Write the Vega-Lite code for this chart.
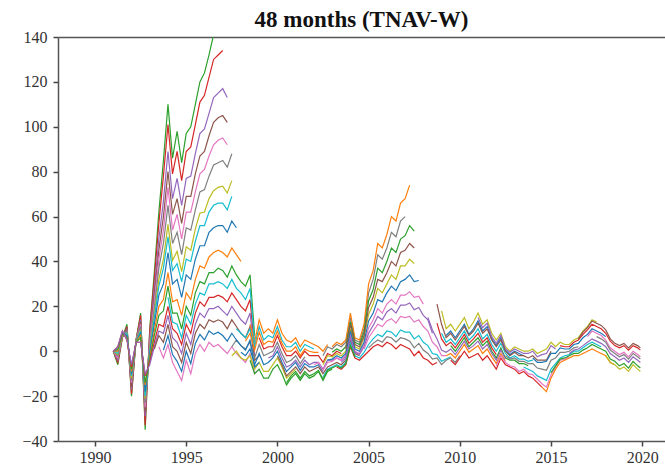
{
  "$schema": "https://vega.github.io/schema/vega-lite/v6.json",
  "width": 607,
  "height": 404,
  "autosize": {"type": "none"},
  "padding": {"left": 58, "top": 37, "right": 0, "bottom": 30},
  "background": "white",
  "title": {"text": "48 months (TNAV-W)", "font": "Liberation Serif", "fontSize": 23, "fontWeight": "bold", "color": "#111", "offset": -3, "anchor": "middle"},
  "config": {"view": {"stroke": null}, "font": "Liberation Serif"},
  "resolve": {"axis": {"x": "independent"}},
  "layer": [
    {
      "data": {"values": [
        {"k":1,"t":1991,"v":0},{"k":1,"t":1991.25,"v":-6},{"k":1,"t":1991.5,"v":6},{"k":1,"t":1991.75,"v":12},{"k":1,"t":1992,"v":-20},{"k":1,"t":1992.25,"v":5},{"k":1,"t":1992.5,"v":17},{"k":1,"t":1992.75,"v":-35},{"k":1,"t":1993,"v":10},{"k":1,"t":1993.25,"v":35},{"k":1,"t":1993.5,"v":62},{"k":1,"t":1993.75,"v":85},{"k":1,"t":1994,"v":110},{"k":1,"t":1994.25,"v":86},{"k":1,"t":1994.5,"v":98},{"k":1,"t":1994.75,"v":84},{"k":1,"t":1995,"v":97},{"k":1,"t":1995.25,"v":100},{"k":1,"t":1995.5,"v":110},{"k":1,"t":1995.75,"v":120},{"k":1,"t":1996,"v":124},{"k":1,"t":1996.25,"v":132},{"k":1,"t":1996.5,"v":141},
        {"k":2,"t":1991,"v":0},{"k":2,"t":1991.25,"v":-5},{"k":2,"t":1991.5,"v":6},{"k":2,"t":1991.75,"v":11},{"k":2,"t":1992,"v":-19},{"k":2,"t":1992.25,"v":5},{"k":2,"t":1992.5,"v":16},{"k":2,"t":1992.75,"v":-33},{"k":2,"t":1993,"v":9},{"k":2,"t":1993.25,"v":32},{"k":2,"t":1993.5,"v":57},{"k":2,"t":1993.75,"v":78},{"k":2,"t":1994,"v":101},{"k":2,"t":1994.25,"v":79},{"k":2,"t":1994.5,"v":89},{"k":2,"t":1994.75,"v":76},{"k":2,"t":1995,"v":89},{"k":2,"t":1995.25,"v":91},{"k":2,"t":1995.5,"v":101},{"k":2,"t":1995.75,"v":111},{"k":2,"t":1996,"v":114},{"k":2,"t":1996.25,"v":122},{"k":2,"t":1996.5,"v":130},{"k":2,"t":1996.75,"v":132},{"k":2,"t":1997,"v":134},
        {"k":3,"t":1991,"v":0},{"k":3,"t":1991.25,"v":-4},{"k":3,"t":1991.5,"v":7},{"k":3,"t":1991.75,"v":10},{"k":3,"t":1992,"v":-17},{"k":3,"t":1992.25,"v":5},{"k":3,"t":1992.5,"v":14},{"k":3,"t":1992.75,"v":-29},{"k":3,"t":1993,"v":6},{"k":3,"t":1993.25,"v":28},{"k":3,"t":1993.5,"v":50},{"k":3,"t":1993.75,"v":67},{"k":3,"t":1994,"v":89},{"k":3,"t":1994.25,"v":68},{"k":3,"t":1994.5,"v":77},{"k":3,"t":1994.75,"v":65},{"k":3,"t":1995,"v":77},{"k":3,"t":1995.25,"v":78},{"k":3,"t":1995.5,"v":88},{"k":3,"t":1995.75,"v":97},{"k":3,"t":1996,"v":99},{"k":3,"t":1996.25,"v":106},{"k":3,"t":1996.5,"v":113},{"k":3,"t":1996.75,"v":115},{"k":3,"t":1997,"v":117},{"k":3,"t":1997.25,"v":113},
        {"k":4,"t":1991,"v":0},{"k":4,"t":1991.25,"v":-3},{"k":4,"t":1991.5,"v":7},{"k":4,"t":1991.75,"v":10},{"k":4,"t":1992,"v":-16},{"k":4,"t":1992.25,"v":5},{"k":4,"t":1992.5,"v":13},{"k":4,"t":1992.75,"v":-27},{"k":4,"t":1993,"v":5},{"k":4,"t":1993.25,"v":25},{"k":4,"t":1993.5,"v":45},{"k":4,"t":1993.75,"v":60},{"k":4,"t":1994,"v":80},{"k":4,"t":1994.25,"v":61},{"k":4,"t":1994.5,"v":68},{"k":4,"t":1994.75,"v":57},{"k":4,"t":1995,"v":69},{"k":4,"t":1995.25,"v":69},{"k":4,"t":1995.5,"v":79},{"k":4,"t":1995.75,"v":87},{"k":4,"t":1996,"v":89},{"k":4,"t":1996.25,"v":96},{"k":4,"t":1996.5,"v":102},{"k":4,"t":1996.75,"v":104},{"k":4,"t":1997,"v":105},{"k":4,"t":1997.25,"v":102},
        {"k":5,"t":1991,"v":0},{"k":5,"t":1991.25,"v":-3},{"k":5,"t":1991.5,"v":7},{"k":5,"t":1991.75,"v":9},{"k":5,"t":1992,"v":-14},{"k":5,"t":1992.25,"v":5},{"k":5,"t":1992.5,"v":12},{"k":5,"t":1992.75,"v":-25},{"k":5,"t":1993,"v":4},{"k":5,"t":1993.25,"v":22},{"k":5,"t":1993.5,"v":41},{"k":5,"t":1993.75,"v":54},{"k":5,"t":1994,"v":73},{"k":5,"t":1994.25,"v":54},{"k":5,"t":1994.5,"v":61},{"k":5,"t":1994.75,"v":50},{"k":5,"t":1995,"v":62},{"k":5,"t":1995.25,"v":62},{"k":5,"t":1995.5,"v":71},{"k":5,"t":1995.75,"v":79},{"k":5,"t":1996,"v":81},{"k":5,"t":1996.25,"v":87},{"k":5,"t":1996.5,"v":92},{"k":5,"t":1996.75,"v":94},{"k":5,"t":1997,"v":95},{"k":5,"t":1997.25,"v":92},
        {"k":6,"t":1991,"v":0},{"k":6,"t":1991.25,"v":-2},{"k":6,"t":1991.5,"v":7},{"k":6,"t":1991.75,"v":9},{"k":6,"t":1992,"v":-13},{"k":6,"t":1992.25,"v":5},{"k":6,"t":1992.5,"v":11},{"k":6,"t":1992.75,"v":-23},{"k":6,"t":1993,"v":2},{"k":6,"t":1993.25,"v":19},{"k":6,"t":1993.5,"v":37},{"k":6,"t":1993.75,"v":48},{"k":6,"t":1994,"v":65},{"k":6,"t":1994.25,"v":48},{"k":6,"t":1994.5,"v":53},{"k":6,"t":1994.75,"v":43},{"k":6,"t":1995,"v":55},{"k":6,"t":1995.25,"v":54},{"k":6,"t":1995.5,"v":63},{"k":6,"t":1995.75,"v":71},{"k":6,"t":1996,"v":72},{"k":6,"t":1996.25,"v":78},{"k":6,"t":1996.5,"v":83},{"k":6,"t":1996.75,"v":84},{"k":6,"t":1997,"v":85},{"k":6,"t":1997.25,"v":82},{"k":6,"t":1997.5,"v":88},
        {"k":7,"t":1991,"v":0},{"k":7,"t":1991.25,"v":-1.5},{"k":7,"t":1991.5,"v":7.5},{"k":7,"t":1991.75,"v":8},{"k":7,"t":1992,"v":-12},{"k":7,"t":1992.25,"v":4.5},{"k":7,"t":1992.5,"v":9.5},{"k":7,"t":1992.75,"v":-21},{"k":7,"t":1993,"v":1},{"k":7,"t":1993.25,"v":16.5},{"k":7,"t":1993.5,"v":32},{"k":7,"t":1993.75,"v":41},{"k":7,"t":1994,"v":56.5},{"k":7,"t":1994.25,"v":40.5},{"k":7,"t":1994.5,"v":44.5},{"k":7,"t":1994.75,"v":35.5},{"k":7,"t":1995,"v":46.5},{"k":7,"t":1995.25,"v":45},{"k":7,"t":1995.5,"v":54.5},{"k":7,"t":1995.75,"v":61.5},{"k":7,"t":1996,"v":62},{"k":7,"t":1996.25,"v":68},{"k":7,"t":1996.5,"v":71.5},{"k":7,"t":1996.75,"v":73},{"k":7,"t":1997,"v":73.5},{"k":7,"t":1997.25,"v":70.5},{"k":7,"t":1997.5,"v":76},
        {"k":8,"t":1991,"v":0},{"k":8,"t":1991.25,"v":-1},{"k":8,"t":1991.5,"v":8},{"k":8,"t":1991.75,"v":8},{"k":8,"t":1992,"v":-11},{"k":8,"t":1992.25,"v":4},{"k":8,"t":1992.5,"v":9},{"k":8,"t":1992.75,"v":-20},{"k":8,"t":1993,"v":0},{"k":8,"t":1993.25,"v":15},{"k":8,"t":1993.5,"v":29},{"k":8,"t":1993.75,"v":37},{"k":8,"t":1994,"v":51},{"k":8,"t":1994.25,"v":36},{"k":8,"t":1994.5,"v":39},{"k":8,"t":1994.75,"v":31},{"k":8,"t":1995,"v":41},{"k":8,"t":1995.25,"v":40},{"k":8,"t":1995.5,"v":49},{"k":8,"t":1995.75,"v":56},{"k":8,"t":1996,"v":56},{"k":8,"t":1996.25,"v":62},{"k":8,"t":1996.5,"v":65},{"k":8,"t":1996.75,"v":66},{"k":8,"t":1997,"v":66},{"k":8,"t":1997.25,"v":63},{"k":8,"t":1997.5,"v":69},
        {"k":9,"t":1991,"v":0},{"k":9,"t":1991.25,"v":0},{"k":9,"t":1991.5,"v":8},{"k":9,"t":1991.75,"v":7},{"k":9,"t":1992,"v":-10},{"k":9,"t":1992.25,"v":4},{"k":9,"t":1992.5,"v":8},{"k":9,"t":1992.75,"v":-18},{"k":9,"t":1993,"v":-1},{"k":9,"t":1993.25,"v":12},{"k":9,"t":1993.5,"v":25},{"k":9,"t":1993.75,"v":30},{"k":9,"t":1994,"v":44},{"k":9,"t":1994.25,"v":30},{"k":9,"t":1994.5,"v":32},{"k":9,"t":1994.75,"v":24},{"k":9,"t":1995,"v":34},{"k":9,"t":1995.25,"v":32},{"k":9,"t":1995.5,"v":41},{"k":9,"t":1995.75,"v":47},{"k":9,"t":1996,"v":47},{"k":9,"t":1996.25,"v":53},{"k":9,"t":1996.5,"v":55},{"k":9,"t":1996.75,"v":56},{"k":9,"t":1997,"v":56},{"k":9,"t":1997.25,"v":53},{"k":9,"t":1997.5,"v":58},{"k":9,"t":1997.75,"v":55},
        {"k":10,"t":1991,"v":0},{"k":10,"t":1991.25,"v":0},{"k":10,"t":1991.5,"v":8},{"k":10,"t":1991.75,"v":6},{"k":10,"t":1992,"v":-9},{"k":10,"t":1992.25,"v":4},{"k":10,"t":1992.5,"v":7},{"k":10,"t":1992.75,"v":-15},{"k":10,"t":1993,"v":-3},{"k":10,"t":1993.25,"v":9},{"k":10,"t":1993.5,"v":20},{"k":10,"t":1993.75,"v":23},{"k":10,"t":1994,"v":35},{"k":10,"t":1994.25,"v":22},{"k":10,"t":1994.5,"v":23},{"k":10,"t":1994.75,"v":16},{"k":10,"t":1995,"v":26},{"k":10,"t":1995.25,"v":23},{"k":10,"t":1995.5,"v":32},{"k":10,"t":1995.75,"v":38},{"k":10,"t":1996,"v":37},{"k":10,"t":1996.25,"v":42},{"k":10,"t":1996.5,"v":44},{"k":10,"t":1996.75,"v":45},{"k":10,"t":1997,"v":44},{"k":10,"t":1997.25,"v":42},{"k":10,"t":1997.5,"v":46},{"k":10,"t":1997.75,"v":43},{"k":10,"t":1998,"v":40},
        {"k":11,"t":1991,"v":0},{"k":11,"t":1991.25,"v":1},{"k":11,"t":1991.5,"v":8},{"k":11,"t":1991.75,"v":6},{"k":11,"t":1992,"v":-8},{"k":11,"t":1992.25,"v":4},{"k":11,"t":1992.5,"v":6},{"k":11,"t":1992.75,"v":-14},{"k":11,"t":1993,"v":-4},{"k":11,"t":1993.25,"v":7},{"k":11,"t":1993.5,"v":16},{"k":11,"t":1993.75,"v":18},{"k":11,"t":1994,"v":29},{"k":11,"t":1994.25,"v":17},{"k":11,"t":1994.5,"v":17},{"k":11,"t":1994.75,"v":10},{"k":11,"t":1995,"v":20},{"k":11,"t":1995.25,"v":16},{"k":11,"t":1995.5,"v":26},{"k":11,"t":1995.75,"v":31},{"k":11,"t":1996,"v":30},{"k":11,"t":1996.25,"v":35},{"k":11,"t":1996.5,"v":35},{"k":11,"t":1996.75,"v":37},{"k":11,"t":1997,"v":36},{"k":11,"t":1997.25,"v":33},{"k":11,"t":1997.5,"v":38},{"k":11,"t":1997.75,"v":34},{"k":11,"t":1998,"v":31},{"k":11,"t":1998.25,"v":29},{"k":11,"t":1998.5,"v":34},{"k":11,"t":1998.75,"v":7},
        {"k":12,"t":1991,"v":0},{"k":12,"t":1991.25,"v":2},{"k":12,"t":1991.5,"v":9},{"k":12,"t":1991.75,"v":5},{"k":12,"t":1992,"v":-7},{"k":12,"t":1992.25,"v":4},{"k":12,"t":1992.5,"v":4},{"k":12,"t":1992.75,"v":-11},{"k":12,"t":1993,"v":-5},{"k":12,"t":1993.25,"v":4},{"k":12,"t":1993.5,"v":12},{"k":12,"t":1993.75,"v":11},{"k":12,"t":1994,"v":20},{"k":12,"t":1994.25,"v":10},{"k":12,"t":1994.5,"v":8},{"k":12,"t":1994.75,"v":3},{"k":12,"t":1995,"v":12},{"k":12,"t":1995.25,"v":8},{"k":12,"t":1995.5,"v":17},{"k":12,"t":1995.75,"v":22},{"k":12,"t":1996,"v":20},{"k":12,"t":1996.25,"v":24},{"k":12,"t":1996.5,"v":24},{"k":12,"t":1996.75,"v":25},{"k":12,"t":1997,"v":24},{"k":12,"t":1997.25,"v":22},{"k":12,"t":1997.5,"v":26},{"k":12,"t":1997.75,"v":23},{"k":12,"t":1998,"v":20},{"k":12,"t":1998.25,"v":18},{"k":12,"t":1998.5,"v":23},{"k":12,"t":1998.75,"v":1},
        {"k":13,"t":1991,"v":0},{"k":13,"t":1991.25,"v":2},{"k":13,"t":1991.5,"v":9},{"k":13,"t":1991.75,"v":5},{"k":13,"t":1992,"v":-6},{"k":13,"t":1992.25,"v":4},{"k":13,"t":1992.5,"v":4},{"k":13,"t":1992.75,"v":-10},{"k":13,"t":1993,"v":-6},{"k":13,"t":1993.25,"v":2},{"k":13,"t":1993.5,"v":9},{"k":13,"t":1993.75,"v":8},{"k":13,"t":1994,"v":16},{"k":13,"t":1994.25,"v":6},{"k":13,"t":1994.5,"v":4},{"k":13,"t":1994.75,"v":-1},{"k":13,"t":1995,"v":8},{"k":13,"t":1995.25,"v":3},{"k":13,"t":1995.5,"v":12},{"k":13,"t":1995.75,"v":17},{"k":13,"t":1996,"v":15},{"k":13,"t":1996.25,"v":19},{"k":13,"t":1996.5,"v":19},{"k":13,"t":1996.75,"v":20},{"k":13,"t":1997,"v":18},{"k":13,"t":1997.25,"v":16},{"k":13,"t":1997.5,"v":20},{"k":13,"t":1997.75,"v":17},{"k":13,"t":1998,"v":14},{"k":13,"t":1998.25,"v":12},{"k":13,"t":1998.5,"v":17},{"k":13,"t":1998.75,"v":-2},
        {"k":14,"t":1993.25,"v":1},{"k":14,"t":1993.5,"v":7},{"k":14,"t":1993.75,"v":4},{"k":14,"t":1994,"v":12},{"k":14,"t":1994.25,"v":2},{"k":14,"t":1994.5,"v":0},{"k":14,"t":1994.75,"v":-5},{"k":14,"t":1995,"v":4},{"k":14,"t":1995.25,"v":-1},{"k":14,"t":1995.5,"v":8},{"k":14,"t":1995.75,"v":12},{"k":14,"t":1996,"v":10},{"k":14,"t":1996.25,"v":14},{"k":14,"t":1996.5,"v":13},{"k":14,"t":1996.75,"v":14},{"k":14,"t":1997,"v":13},{"k":14,"t":1997.25,"v":10},{"k":14,"t":1997.5,"v":14},{"k":14,"t":1997.75,"v":11},{"k":14,"t":1998,"v":8},{"k":14,"t":1998.25,"v":6},{"k":14,"t":1998.5,"v":11},{"k":14,"t":1998.75,"v":-4},{"k":14,"t":1999,"v":-2},
        {"k":15,"t":1993.5,"v":2},{"k":15,"t":1993.75,"v":-3},{"k":15,"t":1994,"v":3},{"k":15,"t":1994.25,"v":-5},{"k":15,"t":1994.5,"v":-9},{"k":15,"t":1994.75,"v":-13},{"k":15,"t":1995,"v":-4},{"k":15,"t":1995.25,"v":-10},{"k":15,"t":1995.5,"v":-1},{"k":15,"t":1995.75,"v":3},{"k":15,"t":1996,"v":0},{"k":15,"t":1996.25,"v":4},{"k":15,"t":1996.5,"v":2},{"k":15,"t":1996.75,"v":3},{"k":15,"t":1997,"v":1},{"k":15,"t":1997.25,"v":-1},{"k":15,"t":1997.5,"v":2},{"k":15,"t":1997.75,"v":-1},{"k":15,"t":1998,"v":-3},{"k":15,"t":1998.25,"v":-5},{"k":15,"t":1998.5,"v":-1},{"k":15,"t":1998.75,"v":-10},{"k":15,"t":1999,"v":-8},
        {"k":16,"t":1997.5,"v":2},{"k":16,"t":1997.75,"v":5},{"k":16,"t":1998,"v":2.5},{"k":16,"t":1998.25,"v":1},{"k":16,"t":1998.5,"v":4},{"k":16,"t":1998.75,"v":-3},{"k":16,"t":1999,"v":3},{"k":16,"t":1999.25,"v":-2},{"k":16,"t":1999.5,"v":-1},{"k":16,"t":1999.75,"v":0},{"k":16,"t":2000,"v":4},{"k":16,"t":2000.25,"v":-1},{"k":16,"t":2000.5,"v":-5},{"k":16,"t":2000.75,"v":-4},{"k":16,"t":2001,"v":-2},{"k":16,"t":2001.25,"v":-5.5},{"k":16,"t":2001.5,"v":-2.5},
        {"k":17,"t":1997.5,"v":-2},{"k":17,"t":1997.75,"v":0},{"k":17,"t":1998,"v":-3},{"k":17,"t":1998.25,"v":-4},{"k":17,"t":1998.5,"v":-2},{"k":17,"t":1998.75,"v":-8},{"k":17,"t":1999,"v":-5},{"k":17,"t":1999.25,"v":-9},{"k":17,"t":1999.5,"v":-9},{"k":17,"t":1999.75,"v":-6},{"k":17,"t":2000,"v":-3},{"k":17,"t":2000.25,"v":-7},{"k":17,"t":2000.5,"v":-12},{"k":17,"t":2000.75,"v":-10},{"k":17,"t":2001,"v":-8},
        {"k":18,"t":1997.75,"v":10},{"k":18,"t":1998,"v":8},{"k":18,"t":1998.25,"v":6},{"k":18,"t":1998.5,"v":10},{"k":18,"t":1998.75,"v":2},{"k":18,"t":1999,"v":11},{"k":18,"t":1999.25,"v":5},{"k":18,"t":1999.5,"v":7},{"k":18,"t":1999.75,"v":6},{"k":18,"t":2000,"v":11},{"k":18,"t":2000.25,"v":5},{"k":18,"t":2000.5,"v":2},{"k":18,"t":2000.75,"v":2},{"k":18,"t":2001,"v":4},{"k":18,"t":2001.25,"v":0},{"k":18,"t":2001.5,"v":3},{"k":18,"t":2001.75,"v":2},{"k":18,"t":2002,"v":1},
        {"k":19,"t":1998,"v":-0.5},{"k":19,"t":1998.25,"v":-2},{"k":19,"t":1998.5,"v":1},{"k":19,"t":1998.75,"v":-6},{"k":19,"t":1999,"v":-1},{"k":19,"t":1999.25,"v":-6},{"k":19,"t":1999.5,"v":-5},{"k":19,"t":1999.75,"v":-3},{"k":19,"t":2000,"v":0},{"k":19,"t":2000.25,"v":-5},{"k":19,"t":2000.5,"v":-9},{"k":19,"t":2000.75,"v":-7},{"k":19,"t":2001,"v":-5},{"k":19,"t":2001.25,"v":-8.5},{"k":19,"t":2001.5,"v":-5.5},{"k":19,"t":2001.75,"v":-7},{"k":19,"t":2002,"v":-7},{"k":19,"t":2002.25,"v":-6},{"k":19,"t":2002.5,"v":-9},
        {"k":20,"t":1998.5,"v":12},{"k":20,"t":1998.75,"v":4},{"k":20,"t":1999,"v":14},{"k":20,"t":1999.25,"v":8},{"k":20,"t":1999.5,"v":10},{"k":20,"t":1999.75,"v":8},{"k":20,"t":2000,"v":14},{"k":20,"t":2000.25,"v":8},{"k":20,"t":2000.5,"v":5},{"k":20,"t":2000.75,"v":4},{"k":20,"t":2001,"v":6},{"k":20,"t":2001.25,"v":2},{"k":20,"t":2001.5,"v":5},{"k":20,"t":2001.75,"v":4},{"k":20,"t":2002,"v":3},{"k":20,"t":2002.25,"v":2},{"k":20,"t":2002.5,"v":0},{"k":20,"t":2002.75,"v":3},
        {"k":21,"t":1998.5,"v":-4},{"k":21,"t":1998.75,"v":-10},{"k":21,"t":1999,"v":-8},{"k":21,"t":1999.25,"v":-12},{"k":21,"t":1999.5,"v":-12},{"k":21,"t":1999.75,"v":-8},{"k":21,"t":2000,"v":-6},{"k":21,"t":2000.25,"v":-10},{"k":21,"t":2000.5,"v":-15},{"k":21,"t":2000.75,"v":-12},{"k":21,"t":2001,"v":-10},{"k":21,"t":2001.25,"v":-13},{"k":21,"t":2001.5,"v":-10},{"k":21,"t":2001.75,"v":-12},{"k":21,"t":2002,"v":-11},{"k":21,"t":2002.25,"v":-9},{"k":21,"t":2002.5,"v":-13},{"k":21,"t":2002.75,"v":-9},{"k":21,"t":2003,"v":-8},
        {"k":22,"t":1999,"v":6},{"k":22,"t":1999.25,"v":1},{"k":22,"t":1999.5,"v":2},{"k":22,"t":1999.75,"v":2},{"k":22,"t":2000,"v":7},{"k":22,"t":2000.25,"v":2},{"k":22,"t":2000.5,"v":-2},{"k":22,"t":2000.75,"v":-2},{"k":22,"t":2001,"v":0},{"k":22,"t":2001.25,"v":-3},{"k":22,"t":2001.5,"v":0},{"k":22,"t":2001.75,"v":-2},{"k":22,"t":2002,"v":-2},{"k":22,"t":2002.25,"v":-2},{"k":22,"t":2002.5,"v":-5},{"k":22,"t":2002.75,"v":-1},{"k":22,"t":2003,"v":-2},{"k":22,"t":2003.25,"v":0},{"k":22,"t":2003.5,"v":-1},
        {"k":23,"t":1999.5,"v":-3},{"k":23,"t":1999.75,"v":-2},{"k":23,"t":2000,"v":2},{"k":23,"t":2000.25,"v":-3},{"k":23,"t":2000.5,"v":-7},{"k":23,"t":2000.75,"v":-6},{"k":23,"t":2001,"v":-4},{"k":23,"t":2001.25,"v":-7},{"k":23,"t":2001.5,"v":-4},{"k":23,"t":2001.75,"v":-6},{"k":23,"t":2002,"v":-5},{"k":23,"t":2002.25,"v":-5},{"k":23,"t":2002.5,"v":-8},{"k":23,"t":2002.75,"v":-4},{"k":23,"t":2003,"v":-4},{"k":23,"t":2003.25,"v":-3},{"k":23,"t":2003.5,"v":-4},{"k":23,"t":2003.75,"v":-2},{"k":23,"t":2004,"v":8},
        {"k":24,"t":2000,"v":-2},{"k":24,"t":2000.25,"v":-6},{"k":24,"t":2000.5,"v":-11},{"k":24,"t":2000.75,"v":-9},{"k":24,"t":2001,"v":-7},{"k":24,"t":2001.25,"v":-10},{"k":24,"t":2001.5,"v":-7},{"k":24,"t":2001.75,"v":-9},{"k":24,"t":2002,"v":-8},{"k":24,"t":2002.25,"v":-7},{"k":24,"t":2002.5,"v":-10},{"k":24,"t":2002.75,"v":-7},{"k":24,"t":2003,"v":-6},{"k":24,"t":2003.25,"v":-5},{"k":24,"t":2003.5,"v":-6},{"k":24,"t":2003.75,"v":-4},{"k":24,"t":2004,"v":5},{"k":24,"t":2004.25,"v":-1},{"k":24,"t":2004.5,"v":-2},
        {"k":25,"t":2002,"v":-6},{"k":25,"t":2002.25,"v":-5},{"k":25,"t":2002.5,"v":-8.5},{"k":25,"t":2002.75,"v":-5},{"k":25,"t":2003,"v":-4.5},{"k":25,"t":2003.25,"v":-3},{"k":25,"t":2003.5,"v":-4},{"k":25,"t":2003.75,"v":-2},{"k":25,"t":2004,"v":7},{"k":25,"t":2004.25,"v":0},{"k":25,"t":2004.5,"v":-1},{"k":25,"t":2004.75,"v":3},{"k":25,"t":2005,"v":10.5},{"k":25,"t":2005.25,"v":14},{"k":25,"t":2005.5,"v":19},{"k":25,"t":2005.75,"v":17},{"k":25,"t":2006,"v":21},{"k":25,"t":2006.25,"v":23},{"k":25,"t":2006.5,"v":21},{"k":25,"t":2006.75,"v":25},{"k":25,"t":2007,"v":25},{"k":25,"t":2007.25,"v":26.5},{"k":25,"t":2007.5,"v":24},{"k":25,"t":2007.75,"v":24.5},{"k":25,"t":2008,"v":21},
        {"k":26,"t":2002.5,"v":-2},{"k":26,"t":2002.75,"v":2},{"k":26,"t":2003,"v":1},{"k":26,"t":2003.25,"v":3},{"k":26,"t":2003.5,"v":2},{"k":26,"t":2003.75,"v":4},{"k":26,"t":2004,"v":15},{"k":26,"t":2004.25,"v":5},{"k":26,"t":2004.5,"v":4},{"k":26,"t":2004.75,"v":10},{"k":26,"t":2005,"v":26},{"k":26,"t":2005.25,"v":32},{"k":26,"t":2005.5,"v":43},{"k":26,"t":2005.75,"v":41},{"k":26,"t":2006,"v":46},{"k":26,"t":2006.25,"v":53},{"k":26,"t":2006.5,"v":51},{"k":26,"t":2006.75,"v":58},{"k":26,"t":2007,"v":60},
        {"k":27,"t":2002.5,"v":-6},{"k":27,"t":2002.75,"v":-2},{"k":27,"t":2003,"v":-2.5},{"k":27,"t":2003.25,"v":-1},{"k":27,"t":2003.5,"v":-2},{"k":27,"t":2003.75,"v":0},{"k":27,"t":2004,"v":10},{"k":27,"t":2004.25,"v":2},{"k":27,"t":2004.5,"v":1},{"k":27,"t":2004.75,"v":6},{"k":27,"t":2005,"v":16.5},{"k":27,"t":2005.25,"v":21},{"k":27,"t":2005.5,"v":28},{"k":27,"t":2005.75,"v":26},{"k":27,"t":2006,"v":30},{"k":27,"t":2006.25,"v":34},{"k":27,"t":2006.5,"v":32},{"k":27,"t":2006.75,"v":38},{"k":27,"t":2007,"v":38},{"k":27,"t":2007.25,"v":41},{"k":27,"t":2007.5,"v":39},
        {"k":28,"t":2002.5,"v":-11.5},{"k":28,"t":2002.75,"v":-8},{"k":28,"t":2003,"v":-7},{"k":28,"t":2003.25,"v":-6},{"k":28,"t":2003.5,"v":-7},{"k":28,"t":2003.75,"v":-5},{"k":28,"t":2004,"v":3.5},{"k":28,"t":2004.25,"v":-2},{"k":28,"t":2004.5,"v":-3},{"k":28,"t":2004.75,"v":-0.5},{"k":28,"t":2005,"v":3},{"k":28,"t":2005.25,"v":5.5},{"k":28,"t":2005.5,"v":7.5},{"k":28,"t":2005.75,"v":6.5},{"k":28,"t":2006,"v":9},{"k":28,"t":2006.25,"v":8.5},{"k":28,"t":2006.5,"v":6.5},{"k":28,"t":2006.75,"v":9.5},{"k":28,"t":2007,"v":8.5},{"k":28,"t":2007.25,"v":8.5},{"k":28,"t":2007.5,"v":5.5},{"k":28,"t":2007.75,"v":7},{"k":28,"t":2008,"v":4},{"k":28,"t":2008.25,"v":2.5},{"k":28,"t":2008.5,"v":-1},{"k":28,"t":2008.75,"v":-1.5},{"k":28,"t":2009,"v":-4.5},{"k":28,"t":2009.25,"v":-3.5},{"k":28,"t":2009.5,"v":-2.5},
        {"k":29,"t":2002.75,"v":-4},{"k":29,"t":2003,"v":-3.5},{"k":29,"t":2003.25,"v":-2},{"k":29,"t":2003.5,"v":-3},{"k":29,"t":2003.75,"v":-1},{"k":29,"t":2004,"v":9},{"k":29,"t":2004.25,"v":1},{"k":29,"t":2004.5,"v":0},{"k":29,"t":2004.75,"v":4},{"k":29,"t":2005,"v":13.5},{"k":29,"t":2005.25,"v":17},{"k":29,"t":2005.5,"v":23},{"k":29,"t":2005.75,"v":22},{"k":29,"t":2006,"v":26},{"k":29,"t":2006.25,"v":29},{"k":29,"t":2006.5,"v":27},{"k":29,"t":2006.75,"v":31},{"k":29,"t":2007,"v":32},{"k":29,"t":2007.25,"v":34},{"k":29,"t":2007.5,"v":31},{"k":29,"t":2007.75,"v":31.5},
        {"k":30,"t":2003,"v":2},{"k":30,"t":2003.25,"v":4},{"k":30,"t":2003.5,"v":3},{"k":30,"t":2003.75,"v":5},{"k":30,"t":2004,"v":17},{"k":30,"t":2004.25,"v":6},{"k":30,"t":2004.5,"v":5},{"k":30,"t":2004.75,"v":12},{"k":30,"t":2005,"v":30},{"k":30,"t":2005.25,"v":36},{"k":30,"t":2005.5,"v":48},{"k":30,"t":2005.75,"v":46},{"k":30,"t":2006,"v":52},{"k":30,"t":2006.25,"v":60},{"k":30,"t":2006.5,"v":58},{"k":30,"t":2006.75,"v":66},{"k":30,"t":2007,"v":68},{"k":30,"t":2007.25,"v":74},
        {"k":31,"t":2003,"v":-0.5},{"k":31,"t":2003.25,"v":1},{"k":31,"t":2003.5,"v":0},{"k":31,"t":2003.75,"v":2},{"k":31,"t":2004,"v":13},{"k":31,"t":2004.25,"v":4},{"k":31,"t":2004.5,"v":3},{"k":31,"t":2004.75,"v":8.5},{"k":31,"t":2005,"v":22.5},{"k":31,"t":2005.25,"v":27.5},{"k":31,"t":2005.5,"v":37},{"k":31,"t":2005.75,"v":35},{"k":31,"t":2006,"v":40},{"k":31,"t":2006.25,"v":46},{"k":31,"t":2006.5,"v":44},{"k":31,"t":2006.75,"v":50},{"k":31,"t":2007,"v":51.5},{"k":31,"t":2007.25,"v":56},{"k":31,"t":2007.5,"v":53.5},
        {"k":32,"t":2003.25,"v":-7},{"k":32,"t":2003.5,"v":-8},{"k":32,"t":2003.75,"v":-6},{"k":32,"t":2004,"v":2},{"k":32,"t":2004.25,"v":-3},{"k":32,"t":2004.5,"v":-4},{"k":32,"t":2004.75,"v":-2},{"k":32,"t":2005,"v":0},{"k":32,"t":2005.25,"v":2},{"k":32,"t":2005.5,"v":3},{"k":32,"t":2005.75,"v":2},{"k":32,"t":2006,"v":4},{"k":32,"t":2006.25,"v":3},{"k":32,"t":2006.5,"v":1},{"k":32,"t":2006.75,"v":3},{"k":32,"t":2007,"v":2},{"k":32,"t":2007.25,"v":1},{"k":32,"t":2007.5,"v":-2},{"k":32,"t":2007.75,"v":0},{"k":32,"t":2008,"v":-3},{"k":32,"t":2008.25,"v":-4},{"k":32,"t":2008.5,"v":-6},{"k":32,"t":2008.75,"v":-5},
        {"k":33,"t":2003.5,"v":-5},{"k":33,"t":2003.75,"v":-3},{"k":33,"t":2004,"v":6},{"k":33,"t":2004.25,"v":-0.5},{"k":33,"t":2004.5,"v":-1.5},{"k":33,"t":2004.75,"v":2},{"k":33,"t":2005,"v":8},{"k":33,"t":2005.25,"v":11.5},{"k":33,"t":2005.5,"v":15.5},{"k":33,"t":2005.75,"v":14},{"k":33,"t":2006,"v":17.5},{"k":33,"t":2006.25,"v":19},{"k":33,"t":2006.5,"v":17},{"k":33,"t":2006.75,"v":20.5},{"k":33,"t":2007,"v":20.5},{"k":33,"t":2007.25,"v":21.5},{"k":33,"t":2007.5,"v":18.5},{"k":33,"t":2007.75,"v":19.5},{"k":33,"t":2008,"v":16},{"k":33,"t":2008.25,"v":14},{"k":33,"t":2008.5,"v":8},
        {"k":34,"t":2003.75,"v":1},{"k":34,"t":2004,"v":12},{"k":34,"t":2004.25,"v":3},{"k":34,"t":2004.5,"v":2},{"k":34,"t":2004.75,"v":7},{"k":34,"t":2005,"v":19.5},{"k":34,"t":2005.25,"v":24},{"k":34,"t":2005.5,"v":32},{"k":34,"t":2005.75,"v":31},{"k":34,"t":2006,"v":35},{"k":34,"t":2006.25,"v":40},{"k":34,"t":2006.5,"v":38},{"k":34,"t":2006.75,"v":44},{"k":34,"t":2007,"v":45},{"k":34,"t":2007.25,"v":48},{"k":34,"t":2007.5,"v":46},
        {"k":35,"t":2004.75,"v":1},{"k":35,"t":2005,"v":6},{"k":35,"t":2005.25,"v":9},{"k":35,"t":2005.5,"v":12},{"k":35,"t":2005.75,"v":11},{"k":35,"t":2006,"v":13.5},{"k":35,"t":2006.25,"v":14.5},{"k":35,"t":2006.5,"v":12.5},{"k":35,"t":2006.75,"v":15.5},{"k":35,"t":2007,"v":15},{"k":35,"t":2007.25,"v":15.5},{"k":35,"t":2007.5,"v":13},{"k":35,"t":2007.75,"v":14},{"k":35,"t":2008,"v":11},{"k":35,"t":2008.25,"v":9},{"k":35,"t":2008.5,"v":4},{"k":35,"t":2008.75,"v":2},{"k":35,"t":2009,"v":-2},{"k":35,"t":2009.25,"v":-2},
        {"k":36,"t":2005,"v":1.5},{"k":36,"t":2005.25,"v":3.5},{"k":36,"t":2005.5,"v":5},{"k":36,"t":2005.75,"v":4},{"k":36,"t":2006,"v":6.5},{"k":36,"t":2006.25,"v":6},{"k":36,"t":2006.5,"v":4},{"k":36,"t":2006.75,"v":6},{"k":36,"t":2007,"v":5.5},{"k":36,"t":2007.25,"v":4.5},{"k":36,"t":2007.5,"v":1.5},{"k":36,"t":2007.75,"v":3.5},{"k":36,"t":2008,"v":0.5},{"k":36,"t":2008.25,"v":-1},{"k":36,"t":2008.5,"v":-3.5},{"k":36,"t":2008.75,"v":-3},{"k":36,"t":2009,"v":-6},{"k":36,"t":2009.25,"v":-4},{"k":36,"t":2009.5,"v":-3},{"k":36,"t":2009.75,"v":-5},{"k":36,"t":2010,"v":-2},
        {"k":37,"t":2009,"v":18},{"k":37,"t":2009.25,"v":10},{"k":37,"t":2009.5,"v":12},{"k":37,"t":2009.75,"v":9},{"k":37,"t":2010,"v":12},{"k":37,"t":2010.25,"v":15},{"k":37,"t":2010.5,"v":10},{"k":37,"t":2010.75,"v":13},{"k":37,"t":2011,"v":17},{"k":37,"t":2011.25,"v":12},{"k":37,"t":2011.5,"v":14},{"k":37,"t":2011.75,"v":8},{"k":37,"t":2012,"v":5},{"k":37,"t":2012.25,"v":8},{"k":37,"t":2012.5,"v":2},{"k":37,"t":2012.75,"v":0},{"k":37,"t":2013,"v":2},
        {"k":38,"t":2009,"v":8},{"k":38,"t":2009.25,"v":4},{"k":38,"t":2009.5,"v":5.5},{"k":38,"t":2009.75,"v":3},{"k":38,"t":2010,"v":6},{"k":38,"t":2010.25,"v":9},{"k":38,"t":2010.5,"v":5},{"k":38,"t":2010.75,"v":7},{"k":38,"t":2011,"v":10},{"k":38,"t":2011.25,"v":5.5},{"k":38,"t":2011.5,"v":7.5},{"k":38,"t":2011.75,"v":3},{"k":38,"t":2012,"v":0},{"k":38,"t":2012.25,"v":3.5},{"k":38,"t":2012.5,"v":-1},{"k":38,"t":2012.75,"v":-3},{"k":38,"t":2013,"v":-2},{"k":38,"t":2013.25,"v":-3.5},{"k":38,"t":2013.5,"v":-3.5},{"k":38,"t":2013.75,"v":-4.5},{"k":38,"t":2014,"v":-4},
        {"k":39,"t":2009.25,"v":7},{"k":39,"t":2009.5,"v":9},{"k":39,"t":2009.75,"v":6},{"k":39,"t":2010,"v":9},{"k":39,"t":2010.25,"v":12},{"k":39,"t":2010.5,"v":7.5},{"k":39,"t":2010.75,"v":10},{"k":39,"t":2011,"v":13.5},{"k":39,"t":2011.25,"v":9},{"k":39,"t":2011.5,"v":11},{"k":39,"t":2011.75,"v":5.5},{"k":39,"t":2012,"v":2.5},{"k":39,"t":2012.25,"v":6},{"k":39,"t":2012.5,"v":0.5},{"k":39,"t":2012.75,"v":-1.5},{"k":39,"t":2013,"v":0},{"k":39,"t":2013.25,"v":-1},{"k":39,"t":2013.5,"v":-2},
        {"k":40,"t":2009.25,"v":-2},{"k":40,"t":2009.5,"v":-1},{"k":40,"t":2009.75,"v":-3},{"k":40,"t":2010,"v":0},{"k":40,"t":2010.25,"v":3},{"k":40,"t":2010.5,"v":-0.5},{"k":40,"t":2010.75,"v":1},{"k":40,"t":2011,"v":2.5},{"k":40,"t":2011.25,"v":-1},{"k":40,"t":2011.5,"v":1},{"k":40,"t":2011.75,"v":-2.5},{"k":40,"t":2012,"v":-5.5},{"k":40,"t":2012.25,"v":-1},{"k":40,"t":2012.5,"v":-4.5},
        {"k":41,"t":2009.5,"v":2.5},{"k":41,"t":2009.75,"v":0},{"k":41,"t":2010,"v":3},{"k":41,"t":2010.25,"v":6},{"k":41,"t":2010.5,"v":2},{"k":41,"t":2010.75,"v":4},{"k":41,"t":2011,"v":6},{"k":41,"t":2011.25,"v":2.5},{"k":41,"t":2011.5,"v":4.5},{"k":41,"t":2011.75,"v":0},{"k":41,"t":2012,"v":-3},{"k":41,"t":2012.25,"v":1.5},{"k":41,"t":2012.5,"v":-3},{"k":41,"t":2012.75,"v":-4},{"k":41,"t":2013,"v":-4},{"k":41,"t":2013.25,"v":-5.5},{"k":41,"t":2013.5,"v":-5.5},{"k":41,"t":2013.75,"v":-6.5},
        {"k":42,"t":2009.5,"v":-4},{"k":42,"t":2009.75,"v":-6},{"k":42,"t":2010,"v":-3},{"k":42,"t":2010.25,"v":0},{"k":42,"t":2010.5,"v":-3},{"k":42,"t":2010.75,"v":-2},{"k":42,"t":2011,"v":-1},{"k":42,"t":2011.25,"v":-4},{"k":42,"t":2011.5,"v":-2},{"k":42,"t":2011.75,"v":-5},{"k":42,"t":2012,"v":-8},{"k":42,"t":2012.25,"v":-3},{"k":42,"t":2012.5,"v":-6},{"k":42,"t":2012.75,"v":-7},{"k":42,"t":2013,"v":-8},{"k":42,"t":2013.25,"v":-10},{"k":42,"t":2013.5,"v":-9},{"k":42,"t":2013.75,"v":-11},{"k":42,"t":2014,"v":-12},{"k":42,"t":2014.25,"v":-14},{"k":42,"t":2014.5,"v":-16},
        {"k":43,"t":2011,"v":15},{"k":43,"t":2011.25,"v":10.5},{"k":43,"t":2011.5,"v":12.5},{"k":43,"t":2011.75,"v":6.5},{"k":43,"t":2012,"v":3.5},{"k":43,"t":2012.25,"v":7},{"k":43,"t":2012.5,"v":1},{"k":43,"t":2012.75,"v":-0.5},{"k":43,"t":2013,"v":1},{"k":43,"t":2013.25,"v":0},{"k":43,"t":2013.5,"v":-1},{"k":43,"t":2013.75,"v":-1},{"k":43,"t":2014,"v":0},{"k":43,"t":2014.25,"v":-2.5},{"k":43,"t":2014.5,"v":-1.5},{"k":43,"t":2014.75,"v":-1},{"k":43,"t":2015,"v":2.5},{"k":43,"t":2015.25,"v":1},
        {"k":44,"t":2011.5,"v":10},{"k":44,"t":2011.75,"v":5},{"k":44,"t":2012,"v":2},{"k":44,"t":2012.25,"v":5},{"k":44,"t":2012.5,"v":0},{"k":44,"t":2012.75,"v":-2},{"k":44,"t":2013,"v":-0.5},{"k":44,"t":2013.25,"v":-2},{"k":44,"t":2013.5,"v":-2},{"k":44,"t":2013.75,"v":-3},{"k":44,"t":2014,"v":-2},{"k":44,"t":2014.25,"v":-4},{"k":44,"t":2014.5,"v":-4},{"k":44,"t":2014.75,"v":-4},{"k":44,"t":2015,"v":0},
        {"k":45,"t":2012,"v":-6.5},{"k":45,"t":2012.25,"v":-2},{"k":45,"t":2012.5,"v":-5},{"k":45,"t":2012.75,"v":-6.5},{"k":45,"t":2013,"v":-7},{"k":45,"t":2013.25,"v":-9},{"k":45,"t":2013.5,"v":-8},{"k":45,"t":2013.75,"v":-10},{"k":45,"t":2014,"v":-10.5},{"k":45,"t":2014.25,"v":-12.5},{"k":45,"t":2014.5,"v":-14.5},{"k":45,"t":2014.75,"v":-16},{"k":45,"t":2015,"v":-10.5},{"k":45,"t":2015.25,"v":-7},{"k":45,"t":2015.5,"v":-4},{"k":45,"t":2015.75,"v":-3.5},{"k":45,"t":2016,"v":-2.5},
        {"k":46,"t":2012.5,"v":-2},{"k":46,"t":2012.75,"v":-3.5},{"k":46,"t":2013,"v":-3},{"k":46,"t":2013.25,"v":-4.5},{"k":46,"t":2013.5,"v":-4.5},{"k":46,"t":2013.75,"v":-5.5},{"k":46,"t":2014,"v":-5.5},{"k":46,"t":2014.25,"v":-7.5},{"k":46,"t":2014.5,"v":-8},{"k":46,"t":2014.75,"v":-8.5},{"k":46,"t":2015,"v":-4},{"k":46,"t":2015.25,"v":-3},{"k":46,"t":2015.5,"v":-0.5},{"k":46,"t":2015.75,"v":-0.5},{"k":46,"t":2016,"v":0},{"k":46,"t":2016.25,"v":1.5},{"k":46,"t":2016.5,"v":2},
        {"k":47,"t":2013,"v":2},{"k":47,"t":2013.25,"v":1},{"k":47,"t":2013.5,"v":0},{"k":47,"t":2013.75,"v":0},{"k":47,"t":2014,"v":1},{"k":47,"t":2014.25,"v":-1},{"k":47,"t":2014.5,"v":0},{"k":47,"t":2014.75,"v":1},{"k":47,"t":2015,"v":4},{"k":47,"t":2015.25,"v":2},{"k":47,"t":2015.5,"v":4},{"k":47,"t":2015.75,"v":3},{"k":47,"t":2016,"v":3},{"k":47,"t":2016.25,"v":5},{"k":47,"t":2016.5,"v":6},{"k":47,"t":2016.75,"v":9},{"k":47,"t":2017,"v":11},{"k":47,"t":2017.25,"v":14},{"k":47,"t":2017.5,"v":13},
        {"k":48,"t":2013.5,"v":-7},{"k":48,"t":2013.75,"v":-8},{"k":48,"t":2014,"v":-9},{"k":48,"t":2014.25,"v":-11},{"k":48,"t":2014.5,"v":-12},{"k":48,"t":2014.75,"v":-13},{"k":48,"t":2015,"v":-8},{"k":48,"t":2015.25,"v":-5.5},{"k":48,"t":2015.5,"v":-3},{"k":48,"t":2015.75,"v":-2},{"k":48,"t":2016,"v":-1.5},{"k":48,"t":2016.25,"v":0},{"k":48,"t":2016.5,"v":0},{"k":48,"t":2016.75,"v":1.5},{"k":48,"t":2017,"v":3},{"k":48,"t":2017.25,"v":4},{"k":48,"t":2017.5,"v":3},{"k":48,"t":2017.75,"v":2},
        {"k":49,"t":2014,"v":-3},{"k":49,"t":2014.25,"v":-5},{"k":49,"t":2014.5,"v":-5},{"k":49,"t":2014.75,"v":-4.5},{"k":49,"t":2015,"v":-1},{"k":49,"t":2015.25,"v":-1},{"k":49,"t":2015.5,"v":1.5},{"k":49,"t":2015.75,"v":1},{"k":49,"t":2016,"v":1},{"k":49,"t":2016.25,"v":3},{"k":49,"t":2016.5,"v":3.5},{"k":49,"t":2016.75,"v":6},{"k":49,"t":2017,"v":7.5},{"k":49,"t":2017.25,"v":10},{"k":49,"t":2017.5,"v":9},{"k":49,"t":2017.75,"v":8},{"k":49,"t":2018,"v":6.5},
        {"k":50,"t":2014.5,"v":-16},{"k":50,"t":2014.75,"v":-18},{"k":50,"t":2015,"v":-12},{"k":50,"t":2015.25,"v":-8},{"k":50,"t":2015.5,"v":-5},{"k":50,"t":2015.75,"v":-4},{"k":50,"t":2016,"v":-3},{"k":50,"t":2016.25,"v":-2},{"k":50,"t":2016.5,"v":-2},{"k":50,"t":2016.75,"v":-1},{"k":50,"t":2017,"v":0},{"k":50,"t":2017.25,"v":1},{"k":50,"t":2017.5,"v":0},{"k":50,"t":2017.75,"v":-1},{"k":50,"t":2018,"v":-2},{"k":50,"t":2018.25,"v":-5},{"k":50,"t":2018.5,"v":-6},
        {"k":51,"t":2015,"v":-9.5},{"k":51,"t":2015.25,"v":-6.5},{"k":51,"t":2015.5,"v":-3.5},{"k":51,"t":2015.75,"v":-3},{"k":51,"t":2016,"v":-2},{"k":51,"t":2016.25,"v":-1},{"k":51,"t":2016.5,"v":-1},{"k":51,"t":2016.75,"v":0.5},{"k":51,"t":2017,"v":1.5},{"k":51,"t":2017.25,"v":3},{"k":51,"t":2017.5,"v":2},{"k":51,"t":2017.75,"v":1},{"k":51,"t":2018,"v":0},{"k":51,"t":2018.25,"v":-3.5},{"k":51,"t":2018.5,"v":-4.5},{"k":51,"t":2018.75,"v":-6.5},{"k":51,"t":2019,"v":-5.5},{"k":51,"t":2019.25,"v":-7.5},{"k":51,"t":2019.5,"v":-4.5},{"k":51,"t":2019.75,"v":-6.5},{"k":51,"t":2019.9,"v":-7.5},
        {"k":52,"t":2015.5,"v":2.5},{"k":52,"t":2015.75,"v":2},{"k":52,"t":2016,"v":2},{"k":52,"t":2016.25,"v":4},{"k":52,"t":2016.5,"v":5},{"k":52,"t":2016.75,"v":7.5},{"k":52,"t":2017,"v":9.5},{"k":52,"t":2017.25,"v":12},{"k":52,"t":2017.5,"v":11},{"k":52,"t":2017.75,"v":10},{"k":52,"t":2018,"v":8},{"k":52,"t":2018.25,"v":4.5},{"k":52,"t":2018.5,"v":2.5},{"k":52,"t":2018.75,"v":1.5},{"k":52,"t":2019,"v":2.5},{"k":52,"t":2019.25,"v":0.5},{"k":52,"t":2019.5,"v":2.5},{"k":52,"t":2019.75,"v":1.5},{"k":52,"t":2019.9,"v":0.5},
        {"k":53,"t":2016,"v":-1},{"k":53,"t":2016.25,"v":0.5},{"k":53,"t":2016.5,"v":1},{"k":53,"t":2016.75,"v":2.5},{"k":53,"t":2017,"v":4},{"k":53,"t":2017.25,"v":5.5},{"k":53,"t":2017.5,"v":4.5},{"k":53,"t":2017.75,"v":3.5},{"k":53,"t":2018,"v":2},{"k":53,"t":2018.25,"v":-1},{"k":53,"t":2018.5,"v":-2.5},{"k":53,"t":2018.75,"v":-4},{"k":53,"t":2019,"v":-3},{"k":53,"t":2019.25,"v":-5},{"k":53,"t":2019.5,"v":-2.5},{"k":53,"t":2019.75,"v":-4},{"k":53,"t":2019.9,"v":-5},
        {"k":54,"t":2016.5,"v":5.5},{"k":54,"t":2016.75,"v":8.5},{"k":54,"t":2017,"v":10.5},{"k":54,"t":2017.25,"v":13.5},{"k":54,"t":2017.5,"v":12.5},{"k":54,"t":2017.75,"v":11.5},{"k":54,"t":2018,"v":9.5},{"k":54,"t":2018.25,"v":5.5},{"k":54,"t":2018.5,"v":3.5},{"k":54,"t":2018.75,"v":2.5},{"k":54,"t":2019,"v":3.5},{"k":54,"t":2019.25,"v":1.5},{"k":54,"t":2019.5,"v":3.5},{"k":54,"t":2019.75,"v":2.5},{"k":54,"t":2019.9,"v":1.5},
        {"k":55,"t":2017,"v":6.5},{"k":55,"t":2017.25,"v":9},{"k":55,"t":2017.5,"v":8},{"k":55,"t":2017.75,"v":7},{"k":55,"t":2018,"v":5},{"k":55,"t":2018.25,"v":1.5},{"k":55,"t":2018.5,"v":0},{"k":55,"t":2018.75,"v":-1.5},{"k":55,"t":2019,"v":-0.5},{"k":55,"t":2019.25,"v":-2.5},{"k":55,"t":2019.5,"v":0},{"k":55,"t":2019.75,"v":-1.5},{"k":55,"t":2019.9,"v":-2.5},
        {"k":56,"t":2017.5,"v":6.5},{"k":56,"t":2017.75,"v":5.5},{"k":56,"t":2018,"v":4},{"k":56,"t":2018.25,"v":0.5},{"k":56,"t":2018.5,"v":-1},{"k":56,"t":2018.75,"v":-2.5},{"k":56,"t":2019,"v":-1.5},{"k":56,"t":2019.25,"v":-3.5},{"k":56,"t":2019.5,"v":-1},{"k":56,"t":2019.75,"v":-2.5},{"k":56,"t":2019.9,"v":-3.5},
        {"k":57,"t":2018,"v":-2},{"k":57,"t":2018.25,"v":-5},{"k":57,"t":2018.5,"v":-6},{"k":57,"t":2018.75,"v":-8},{"k":57,"t":2019,"v":-7},{"k":57,"t":2019.25,"v":-9},{"k":57,"t":2019.5,"v":-6},{"k":57,"t":2019.75,"v":-8},{"k":57,"t":2019.9,"v":-9},
        {"k":58,"t":1994,"v":24},{"k":58,"t":1994.25,"v":13},{"k":58,"t":1994.5,"v":12},{"k":58,"t":1994.75,"v":6},{"k":58,"t":1995,"v":16},{"k":58,"t":1995.25,"v":12},{"k":58,"t":1995.5,"v":21},{"k":58,"t":1995.75,"v":26},{"k":58,"t":1996,"v":25},{"k":58,"t":1996.25,"v":30},{"k":58,"t":1996.5,"v":30},{"k":58,"t":1996.75,"v":31},{"k":58,"t":1997,"v":30},{"k":58,"t":1997.25,"v":28},{"k":58,"t":1997.5,"v":32},{"k":58,"t":1997.75,"v":28},{"k":58,"t":1998,"v":26},{"k":58,"t":1998.25,"v":23},{"k":58,"t":1998.5,"v":28},{"k":58,"t":1998.75,"v":4},
        {"k":59,"t":1993.75,"v":0.5},{"k":59,"t":1994,"v":7},{"k":59,"t":1994.25,"v":-1.5},{"k":59,"t":1994.5,"v":-4.5},{"k":59,"t":1994.75,"v":-9},{"k":59,"t":1995,"v":0},{"k":59,"t":1995.25,"v":-5.5},{"k":59,"t":1995.5,"v":3.5},{"k":59,"t":1995.75,"v":7.5},{"k":59,"t":1996,"v":5},{"k":59,"t":1996.25,"v":9},{"k":59,"t":1996.5,"v":7.5},{"k":59,"t":1996.75,"v":8.5},{"k":59,"t":1997,"v":7},{"k":59,"t":1997.25,"v":4.5},{"k":59,"t":1997.5,"v":8},{"k":59,"t":1997.75,"v":5},{"k":59,"t":1998,"v":2.5},{"k":59,"t":1998.25,"v":0.5},{"k":59,"t":1998.5,"v":5},{"k":59,"t":1998.75,"v":-7},{"k":59,"t":1999,"v":-5},
        {"k":60,"t":1998.25,"v":4.5},{"k":60,"t":1998.5,"v":8},{"k":60,"t":1998.75,"v":0.5},{"k":60,"t":1999,"v":8.5},{"k":60,"t":1999.25,"v":3},{"k":60,"t":1999.5,"v":4.5},{"k":60,"t":1999.75,"v":4},{"k":60,"t":2000,"v":9},{"k":60,"t":2000.25,"v":3.5},{"k":60,"t":2000.5,"v":0},{"k":60,"t":2000.75,"v":0},{"k":60,"t":2001,"v":2},{"k":60,"t":2001.25,"v":-2},{"k":60,"t":2001.5,"v":1},{"k":60,"t":2001.75,"v":0},{"k":60,"t":2002,"v":-0.5},{"k":60,"t":2002.25,"v":-0.5},
        {"k":61,"t":2000.5,"v":-14},{"k":61,"t":2000.75,"v":-11},{"k":61,"t":2001,"v":-9},{"k":61,"t":2001.25,"v":-12},{"k":61,"t":2001.5,"v":-9},{"k":61,"t":2001.75,"v":-11},{"k":61,"t":2002,"v":-10},{"k":61,"t":2002.25,"v":-8.5},{"k":61,"t":2002.5,"v":-12.5},{"k":61,"t":2002.75,"v":-8.5},{"k":61,"t":2003,"v":-7.5},{"k":61,"t":2003.25,"v":-6.5},{"k":61,"t":2003.5,"v":-7.5},{"k":61,"t":2003.75,"v":-5.5},{"k":61,"t":2004,"v":2.5},{"k":61,"t":2004.25,"v":-2.5},
        {"k":62,"t":2008.75,"v":12.5},{"k":62,"t":2009,"v":5.5},{"k":62,"t":2009.25,"v":2.5},{"k":62,"t":2009.5,"v":4},{"k":62,"t":2009.75,"v":1.5},{"k":62,"t":2010,"v":4.5},{"k":62,"t":2010.25,"v":7.5},{"k":62,"t":2010.5,"v":3.5},{"k":62,"t":2010.75,"v":5.5},{"k":62,"t":2011,"v":8},{"k":62,"t":2011.25,"v":4},{"k":62,"t":2011.5,"v":6},{"k":62,"t":2011.75,"v":1.5},{"k":62,"t":2012,"v":-1.5},
        {"k":63,"t":2008.25,"v":15},{"k":63,"t":2008.5,"v":9.5},{"k":63,"t":2008.75,"v":5.5},{"k":63,"t":2009,"v":0.5},{"k":63,"t":2009.25,"v":-0.5},{"k":63,"t":2009.5,"v":1},{"k":63,"t":2009.75,"v":-1.5},{"k":63,"t":2010,"v":1.5},{"k":63,"t":2010.25,"v":4.5},{"k":63,"t":2010.5,"v":1},{"k":63,"t":2010.75,"v":2.5},{"k":63,"t":2011,"v":4.5},{"k":63,"t":2011.25,"v":1},{"k":63,"t":2011.5,"v":3},{"k":63,"t":2011.75,"v":-1},{"k":63,"t":2012,"v":-4},{"k":63,"t":2012.25,"v":0.5},{"k":63,"t":2012.5,"v":-3.5},
        {"k":64,"t":2008.75,"v":21},{"k":64,"t":2009,"v":12},{"k":64,"t":2009.25,"v":6},{"k":64,"t":2009.5,"v":8},{"k":64,"t":2009.75,"v":5},{"k":64,"t":2010,"v":8},{"k":64,"t":2010.25,"v":11},{"k":64,"t":2010.5,"v":7},{"k":64,"t":2010.75,"v":9},{"k":64,"t":2011,"v":12.5},{"k":64,"t":2011.25,"v":8},{"k":64,"t":2011.5,"v":10}
      ]},
      "mark": {"type": "line", "strokeWidth": 1.2, "clip": true},
      "encoding": {
        "x": {"field": "t", "type": "quantitative",
          "scale": {"domain": [1987.97, 2021.25], "nice": false, "zero": false},
          "axis": {"orient": "bottom", "values": [1990, 1995, 2000, 2005, 2010, 2015, 2020], "format": "d", "title": null, "grid": false,
            "labelFont": "Liberation Serif", "labelFontSize": 16, "labelColor": "#333", "labelPadding": 3,
            "tickColor": "#444", "tickSize": 5, "tickWidth": 1.5, "domainColor": "#555", "domainWidth": 1.5}},
        "y": {"field": "v", "type": "quantitative",
          "scale": {"domain": [-40, 140], "nice": false, "zero": false},
          "axis": {"values": [-40, -20, 0, 20, 40, 60, 80, 100, 120, 140], "title": null, "grid": false,
            "labelFont": "Liberation Serif", "labelFontSize": 16, "labelColor": "#333", "labelPadding": 6,
            "tickColor": "#444", "tickSize": 5, "tickWidth": 1.5, "domainColor": "#555", "domainWidth": 1.5}},
        "color": {"field": "k", "type": "nominal", "legend": null,
          "scale": {"range": ["#2ca02c", "#d62728", "#9467bd", "#8c564b", "#e377c2", "#7f7f7f", "#bcbd22", "#17becf", "#1f77b4", "#ff7f0e"]}}
      }
    },
    {
      "mark": {"type": "rule", "color": "#000", "strokeWidth": 2.5},
      "encoding": {"y": {"datum": 0}}
    },
    {
      "mark": {"type": "rule", "opacity": 0},
      "encoding": {
        "x": {"datum": 2000, "type": "quantitative",
          "axis": {"orient": "top", "labels": false, "ticks": false, "title": null, "grid": false, "domainColor": "#555", "domainWidth": 1.5}}
      }
    }
  ]
}
